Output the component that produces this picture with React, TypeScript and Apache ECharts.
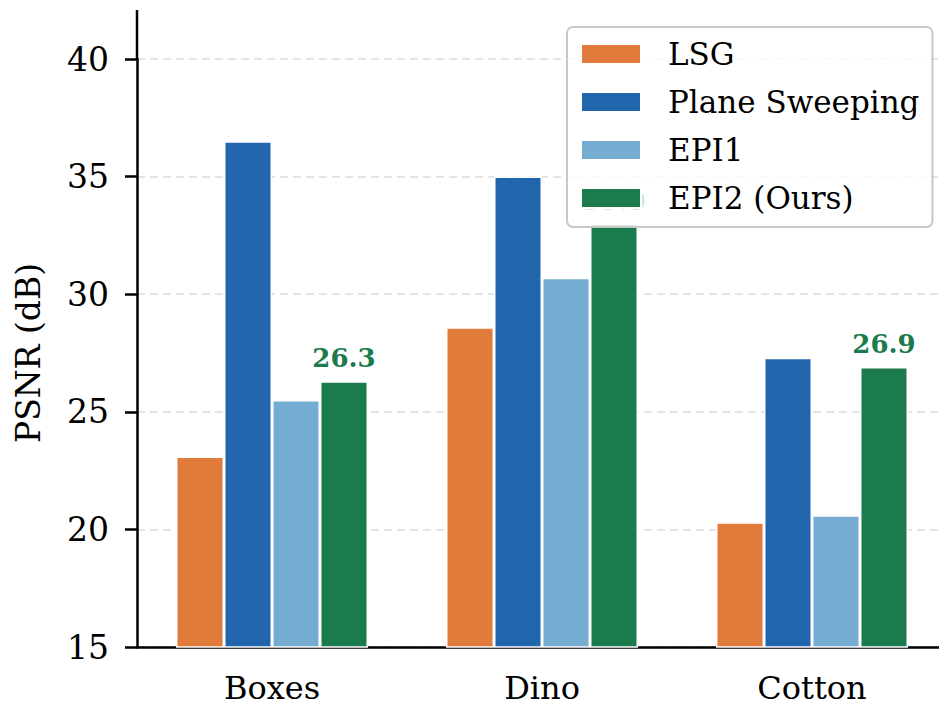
import React, { useEffect, useRef } from "react";
import * as echarts from "echarts";

const categories = ["Boxes", "Dino", "Cotton"];
const seriesNames = ["LSG", "Plane Sweeping", "EPI1", "EPI2 (Ours)"];
const lsg = [23.1, 28.6, 20.3];
const planeSweeping = [36.5, 35.0, 27.3];
const epi1 = [25.5, 30.7, 20.6];
const epi2 = [26.3, 33.0, 26.9];
const yTicks = { min: 15, max: 40, interval: 5 };
const colors = ["#e07b3c", "#2166ac", "#75add2", "#1b7b4c"];

const FONT = "DejaVu Serif";

export default function App() {
  const ref = useRef<HTMLDivElement>(null);
  useEffect(() => {
    if (!ref.current) return;
    const chart = echarts.init(ref.current, undefined, { renderer: "svg" });
    const data = [lsg, planeSweeping, epi1, epi2];
    chart.setOption({
      animation: false,
      backgroundColor: "#ffffff",
      textStyle: { fontFamily: FONT },
      grid: { left: 137, top: 59, width: 810, height: 588, containLabel: false },
      legend: {
        orient: "vertical",
        left: 567,
        top: 27,
        data: seriesNames,
        icon: "rect",
        itemWidth: 60,
        itemHeight: 20,
        itemGap: 16,
        padding: [11, 13, 13, 13],
        backgroundColor: "rgba(255,255,255,0.8)",
        borderColor: "#c8c8c8",
        borderWidth: 2,
        borderRadius: 6,
        textStyle: { fontFamily: FONT, fontSize: 31, color: "#000", padding: [0, 0, 0, 22], lineHeight: 32 },
      },
      xAxis: {
        type: "category",
        data: categories,
        axisLine: { lineStyle: { color: "#000", width: 2.5 } },
        axisTick: { alignWithLabel: true, length: 11, lineStyle: { color: "#000", width: 2.5 } },
        axisLabel: { fontFamily: FONT, fontSize: 32, lineHeight: 32, color: "#000", margin: 25 },
      },
      yAxis: {
        type: "value",
        min: yTicks.min,
        max: yTicks.max,
        interval: yTicks.interval,
        name: "PSNR (dB)",
        nameLocation: "middle",
        nameGap: 92,
        nameTextStyle: { fontFamily: FONT, fontSize: 33, color: "#000" },
        axisLine: { show: true, lineStyle: { color: "#000", width: 2.5 } },
        axisTick: { show: true, length: 12, lineStyle: { color: "#000", width: 2.5 } },
        axisLabel: { fontFamily: FONT, fontSize: 33, color: "#000", margin: 28 },
        splitLine: { show: true, lineStyle: { color: "#dcdcdc", type: [8, 5], width: 1.5 } },
      },
      graphic: [
        {
          type: "line",
          shape: { x1: 137, y1: 10, x2: 137, y2: 60 },
          style: { stroke: "#000", lineWidth: 2.5 },
          z: 10,
        },
      ],
      series: data.map((d, i) => ({
        type: "bar",
        name: seriesNames[i],
        data: d,
        barWidth: 48,
        barGap: "0%",
        itemStyle: { color: colors[i], borderColor: "#ffffff", borderWidth: 1.5 },
        label:
          i === 3
            ? {
                show: true,
                position: "top",
                distance: 10,
                formatter: (p: any) => Number(p.value).toFixed(1),
                fontFamily: FONT,
                fontWeight: "bold",
                fontSize: 26,
                color: colors[3],
              }
            : { show: false },
      })),
    });
    return () => chart.dispose();
  }, []);
  return (
    <div style={{ position: "absolute", left: 0, top: 0, width: 939, height: 706, overflow: "hidden", background: "#fff" }}>
      <div ref={ref} style={{ position: "absolute", left: 0, top: 0, width: 950, height: 706 }} />
    </div>
  );
}
